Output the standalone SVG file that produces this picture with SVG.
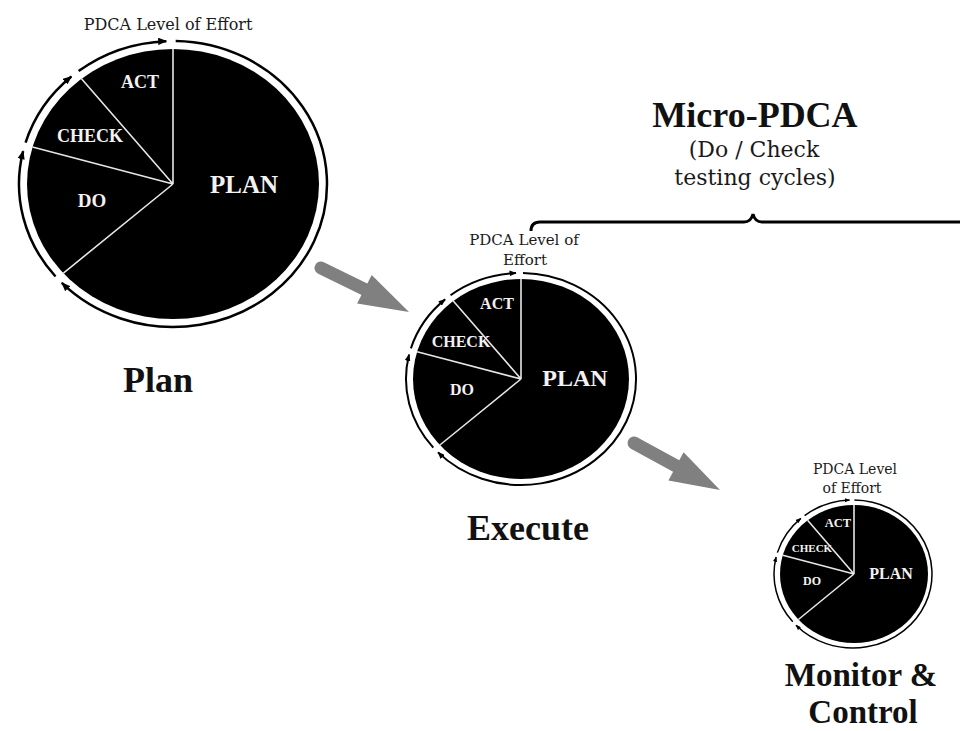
<svg xmlns="http://www.w3.org/2000/svg" width="960" height="731" viewBox="0 0 960 731">
  <style>
    .pie { fill: #000; }
    .sep { stroke: #e6e6e6; stroke-width: 1.6; fill: none; }
    .ring { fill: none; stroke: #000; marker-end: url(#ringArrow); }
    .seg { font-family: "Liberation Serif", "Times New Roman", serif; font-weight: bold; fill: #f2f2f2; text-anchor: middle; }
    .cap { font-family: "DejaVu Serif", "Liberation Serif", serif; fill: #1a1a1a; text-anchor: middle; }
    .title { font-family: "Liberation Serif", "Times New Roman", serif; font-weight: bold; fill: #111; text-anchor: middle; font-size: 36px; }
    .flow { fill: #808080; }
    .flowShaft { stroke: #808080; stroke-width: 13; stroke-linecap: round; fill: none; }
  </style>
  <defs>
    <marker id="ringArrow" viewBox="0 0 10 8" refX="9" refY="4" markerWidth="3.6" markerHeight="2.9" markerUnits="strokeWidth" orient="auto">
      <path d="M0,0 L10,4 L0,8 z" fill="#000"/>
    </marker>
  </defs>

  <rect width="960" height="731" fill="#fff"/>

  <!-- Plan phase -->
  <g id="pie-plan">
    <text class="cap" x="168" y="30" font-size="16">PDCA Level of Effort</text>
    <ellipse class="pie" cx="173" cy="184" rx="146" ry="135"/>
    <path class="sep" d="M173,184 L173,49 M173,184 L81.5,78.8 M173,184 L32.5,147.1 M173,184 L63.4,273.1"/>
    <g stroke-width="2.5">
      <path class="ring" d="M175.69,41.02 A154,143 0 1 1 61.84,282.97"/>
      <path class="ring" d="M55.54,276.49 A154,143 0 0 1 23.13,151.11"/>
      <path class="ring" d="M25.58,142.67 A154,143 0 0 1 71.36,76.56"/>
      <path class="ring" d="M78.61,71.0 A154,143 0 0 1 166.28,41.14"/>
    </g>
    <text class="seg" x="140" y="88" font-size="18">ACT</text>
    <text class="seg" x="90" y="142" font-size="18">CHECK</text>
    <text class="seg" x="92" y="207" font-size="19">DO</text>
    <text class="seg" x="244" y="193" font-size="25">PLAN</text>
    <text class="title" x="158" y="392">Plan</text>
  </g>

  <!-- Execute phase -->
  <g id="pie-execute">
    <text class="cap" x="524" y="245" font-size="15">PDCA Level of</text>
    <text class="cap" x="525" y="265" font-size="15">Effort</text>
    <ellipse class="pie" cx="521" cy="379" rx="108" ry="100"/>
    <path class="sep" d="M521,379 L521,279 M521,379 L453.3,301.1 M521,379 L417.1,351.7 M521,379 L439.9,445"/>
    <g stroke-width="2">
      <path class="ring" d="M523.01,273.02 A115,106 0 1 1 437.99,452.36"/>
      <path class="ring" d="M433.29,447.56 A115,106 0 0 1 409.08,354.62"/>
      <path class="ring" d="M410.91,348.37 A115,106 0 0 1 445.1,299.36"/>
      <path class="ring" d="M450.52,295.24 A115,106 0 0 1 515.98,273.1"/>
    </g>
    <text class="seg" x="497" y="309" font-size="16">ACT</text>
    <text class="seg" x="461" y="347" font-size="16">CHECK</text>
    <text class="seg" x="462" y="395" font-size="16">DO</text>
    <text class="seg" x="575" y="386" font-size="24">PLAN</text>
    <text class="title" x="528" y="540">Execute</text>
  </g>

  <!-- Monitor & Control phase -->
  <g id="pie-monitor">
    <text class="cap" x="855" y="474" font-size="14">PDCA Level</text>
    <text class="cap" x="852" y="493" font-size="14">of Effort</text>
    <ellipse class="pie" cx="854" cy="574" rx="74" ry="69"/>
    <path class="sep" d="M854,574 L854,505 M854,574 L807.6,520.2 M854,574 L782.8,555.2 M854,574 L798.4,619.5"/>
    <g stroke-width="1.5">
      <path class="ring" d="M854.38,500.01 A79,74 0 1 1 795.98,625.22"/>
      <path class="ring" d="M792.75,621.86 A79,74 0 0 1 776.12,556.98"/>
      <path class="ring" d="M777.37,552.61 A79,74 0 0 1 800.86,518.4"/>
      <path class="ring" d="M804.58,515.53 A79,74 0 0 1 849.55,500.07"/>
    </g>
    <text class="seg" x="838" y="527" font-size="12.5">ACT</text>
    <text class="seg" x="812" y="552" font-size="11">CHECK</text>
    <text class="seg" x="812" y="585" font-size="12">DO</text>
    <text class="seg" x="891" y="579" font-size="16">PLAN</text>
    <text class="title" x="861" y="686" style="font-size:33px">Monitor &amp;</text>
    <text class="title" x="863" y="723" style="font-size:33px">Control</text>
  </g>

  <!-- Micro-PDCA brace and caption -->
  <g id="micro-pdca">
    <text class="title" x="755" y="127">Micro-PDCA</text>
    <text class="cap" x="754" y="157" font-size="22">(Do / Check</text>
    <text class="cap" x="755" y="185" font-size="22">testing cycles)</text>
    <path d="M531,231 Q531,222 540,222 L744,222 Q751,222 753,214 Q755,222 762,222 L962,222" fill="none" stroke="#000" stroke-width="3"/>
  </g>

  <!-- Phase-to-phase flow arrows -->
  <g id="connectors">
    <line class="flowShaft" x1="321" y1="268" x2="366" y2="290"/>
    <polygon class="flow" points="371.7,274.9 409,312 357.1,303.5"/>
    <line class="flowShaft" x1="634" y1="443" x2="678" y2="467"/>
    <polygon class="flow" points="683.6,452.2 720,490 668.4,480.4"/>
  </g>
</svg>
